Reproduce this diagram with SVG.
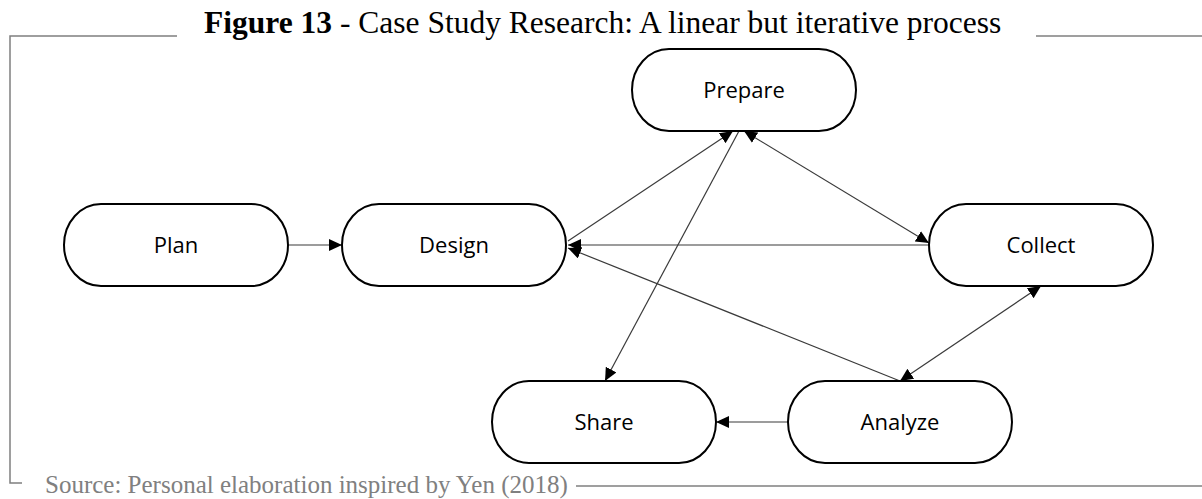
<svg xmlns="http://www.w3.org/2000/svg" width="1202" height="499" viewBox="0 0 1202 499">
  <style>
    .frame { stroke: #7f7f7f; stroke-width: 1.5; fill: none; }
    .node rect { fill: #ffffff; stroke: #000000; stroke-width: 2; }
    .node text { font-family: "Open Sans", "Noto Sans", "Liberation Sans", sans-serif; font-size: 22px; fill: #000000; text-anchor: middle; }
    .edge { stroke: #3a3a3a; stroke-width: 1.2; fill: none; }
    .title { font-family: "Liberation Serif", "Times New Roman", serif; font-size: 31.5px; fill: #000000; }
    .source { font-family: "Liberation Serif", "Times New Roman", serif; font-size: 25px; fill: #808080; }
  </style>
  <defs>
    <marker id="head" viewBox="0 0 13 12" refX="13" refY="6" markerWidth="13" markerHeight="12" markerUnits="userSpaceOnUse" orient="auto-start-reverse">
      <path d="M0,0 L13,6 L0,12 Z" fill="#000000"/>
    </marker>
  </defs>
  <rect width="1202" height="499" fill="#ffffff"/>

  <!-- frame -->
  <g id="frame">
    <polyline class="frame" points="177,36 10,36 10,483 22,483"/>
    <line class="frame" x1="1036" y1="36" x2="1202" y2="36"/>
    <line class="frame" x1="576" y1="486" x2="1202" y2="486"/>
  </g>

  <text class="title" x="204" y="33"><tspan font-weight="bold">Figure 13</tspan> - Case Study Research: A linear but iterative process</text>
  <text class="source" x="45" y="493">Source: Personal elaboration inspired by Yen (2018)</text>

  <!-- connectors -->
  <g id="connectors">
    <line class="edge" x1="288" y1="245" x2="342" y2="245" marker-end="url(#head)"/>
    <line class="edge" x1="568" y1="241" x2="733" y2="131" marker-end="url(#head)"/>
    <line class="edge" x1="739" y1="131" x2="605" y2="381" marker-end="url(#head)"/>
    <line class="edge" x1="744" y1="131" x2="929" y2="243" marker-start="url(#head)" marker-end="url(#head)"/>
    <line class="edge" x1="929" y1="245" x2="568" y2="245" marker-end="url(#head)"/>
    <line class="edge" x1="900" y1="381" x2="568" y2="248" marker-end="url(#head)"/>
    <line class="edge" x1="1041" y1="286" x2="900" y2="381" marker-start="url(#head)" marker-end="url(#head)"/>
    <line class="edge" x1="788" y1="422" x2="716" y2="422" marker-end="url(#head)"/>
  </g>

  <!-- nodes -->
  <g id="prepare" class="node">
    <rect x="632" y="49" width="224" height="82" rx="37" ry="41"/>
    <text x="744" y="98">Prepare</text>
  </g>
  <g id="plan" class="node">
    <rect x="64" y="204" width="224" height="82" rx="37" ry="41"/>
    <text x="176" y="253">Plan</text>
  </g>
  <g id="design" class="node">
    <rect x="342" y="204" width="224" height="82" rx="37" ry="41"/>
    <text x="454" y="253">Design</text>
  </g>
  <g id="collect" class="node">
    <rect x="929" y="204" width="224" height="82" rx="37" ry="41"/>
    <text x="1041" y="253">Collect</text>
  </g>
  <g id="share" class="node">
    <rect x="492" y="381" width="224" height="82" rx="37" ry="41"/>
    <text x="604" y="430">Share</text>
  </g>
  <g id="analyze" class="node">
    <rect x="788" y="381" width="224" height="82" rx="37" ry="41"/>
    <text x="900" y="430">Analyze</text>
  </g>
</svg>
